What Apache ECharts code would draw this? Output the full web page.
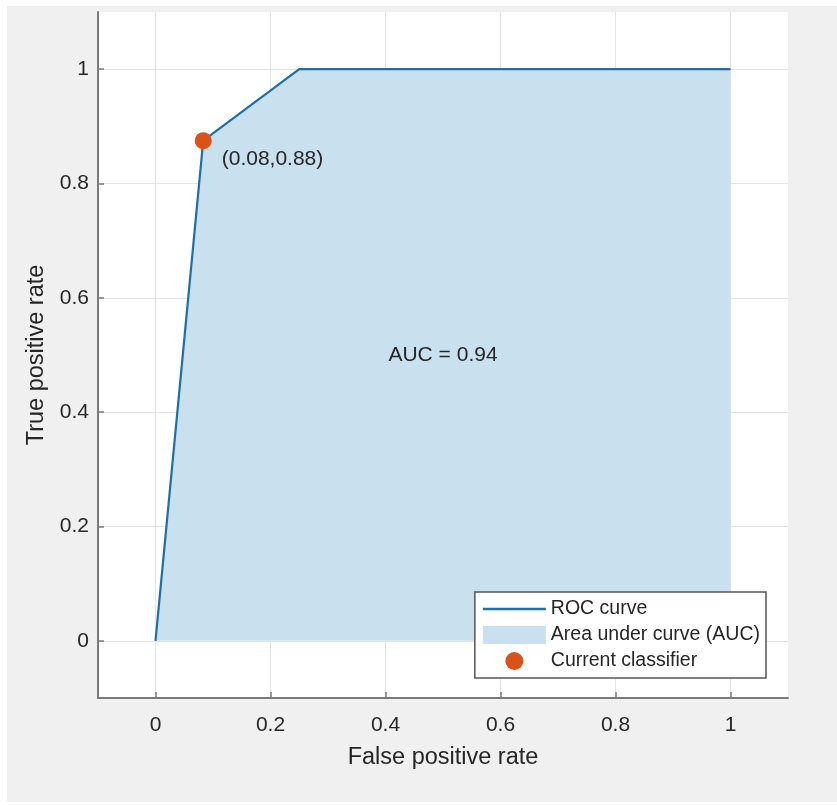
<!DOCTYPE html>
<html>
<head>
<meta charset="utf-8">
<script src="https://cdn.jsdelivr.net/npm/echarts@6/dist/echarts.min.js"></script>
<style>
html,body{margin:0;padding:0;background:#ffffff;}
#chart{width:837px;height:805px;}
</style>
</head>
<body>
<div id="chart"></div>
<script>
// ---- data ----
const fpr = [0, 0.083, 0.25, 1];
const tpr = [0, 0.875, 1, 1];
const classifierPoint = [0.083, 0.875];
const classifierLabel = '(0.08,0.88)';
const aucPoint = [0.5, 0.5];
const aucLabel = 'AUC = 0.94';
const xTicks = [0, 0.2, 0.4, 0.6, 0.8, 1];
const yTicks = [0, 0.2, 0.4, 0.6, 0.8, 1];
const seriesNames = ['ROC curve', 'Area under curve (AUC)', 'Current classifier'];

const rocData = fpr.map((x, i) => [x, tpr[i]]);
const FONT = "'Liberation Sans', Arial, Helvetica, sans-serif";
const TXT = '#262626';
const AX = '#7a7a7a';
const LINE = '#1f6ea5';
const AREA = '#c9e1ef';
const DOT = '#d95319';
const lineIcon = 'path://M0,0 L0.01,0 L0,0.01 Z M63,18 L62.99,18 L63,17.99 Z M0,7.7 L63,7.7 L63,10.3 L0,10.3 Z';

const chart = echarts.init(document.getElementById('chart'), null, {renderer: 'canvas'});
chart.setOption({
  animation: false,
  backgroundColor: 'transparent',
  textStyle: {fontFamily: FONT},
  graphic: [{
    type: 'rect', z: -100, silent: true,
    shape: {x: 7, y: 6, width: 830, height: 796},
    style: {fill: '#f0f0f0'}
  }],
  grid: {
    left: 98, right: 49, top: 12, bottom: 107,
    show: true, backgroundColor: '#ffffff', borderWidth: 0
  },
  xAxis: {
    type: 'value', min: -0.1, max: 1.1,
    name: 'False positive rate', nameLocation: 'middle', nameGap: 48,
    nameTextStyle: {fontSize: 23.5, color: TXT, fontFamily: FONT},
    axisLine: {show: true, onZero: false, lineStyle: {color: AX, width: 2}},
    axisTick: {show: true, inside: true, length: 6, customValues: xTicks, lineStyle: {color: AX, width: 1.5}},
    axisLabel: {customValues: xTicks, fontSize: 21, color: TXT, margin: 17, fontFamily: FONT},
    splitLine: {show: true, lineStyle: {color: '#e4e4e4', width: 1}}
  },
  yAxis: {
    type: 'value', min: -0.1, max: 1.1,
    name: 'True positive rate', nameLocation: 'middle', nameGap: 45,
    nameTextStyle: {fontSize: 23.5, color: TXT, fontFamily: FONT},
    axisLine: {show: true, onZero: false, lineStyle: {color: AX, width: 2}},
    axisTick: {show: true, inside: true, length: 6, customValues: yTicks, lineStyle: {color: AX, width: 1.5}},
    axisLabel: {customValues: yTicks, fontSize: 21, color: TXT, margin: 9, fontFamily: FONT},
    splitLine: {show: true, lineStyle: {color: '#e4e4e4', width: 1}}
  },
  legend: {
    orient: 'vertical',
    right: 71, bottom: 127,
    backgroundColor: '#ffffff',
    borderColor: '#555555', borderWidth: 1.5, borderRadius: 0,
    padding: [7, 6, 7, 8],
    itemWidth: 63, itemHeight: 18, itemGap: 6,
    textStyle: {fontSize: 19.5, lineHeight: 18, color: TXT, fontFamily: FONT},
    data: [
      {name: seriesNames[0], icon: lineIcon, itemStyle: {color: LINE, borderWidth: 0}},
      {name: seriesNames[1], icon: 'rect', itemStyle: {color: AREA, borderWidth: 0}},
      {name: seriesNames[2], icon: 'circle', itemStyle: {color: DOT, borderWidth: 0, opacity: 1}}
    ]
  },
  series: [
    {
      name: seriesNames[1], type: 'line', data: rocData,
      symbol: 'none', lineStyle: {width: 0, color: AREA},
      itemStyle: {color: AREA},
      areaStyle: {color: AREA, opacity: 1}, z: 1
    },
    {
      name: seriesNames[0], type: 'line', data: rocData,
      symbol: 'none', lineStyle: {width: 2.2, color: LINE},
      itemStyle: {color: LINE}, z: 3
    },
    {
      name: seriesNames[2], type: 'scatter', data: [classifierPoint],
      symbol: 'circle', symbolSize: 17,
      itemStyle: {color: DOT, opacity: 1}, z: 5,
      label: {
        show: true, position: 'right', distance: 5, offset: [5, 19],
        formatter: classifierLabel, fontSize: 21, color: TXT, fontFamily: FONT
      }
    },
    {
      name: 'aucText', type: 'scatter', data: [aucPoint],
      symbolSize: 0, silent: true, z: 4,
      itemStyle: {opacity: 1},
      label: {
        show: true, position: 'inside', formatter: aucLabel,
        fontSize: 21, color: TXT, fontFamily: FONT
      }
    }
  ]
});
</script>
</body>
</html>
